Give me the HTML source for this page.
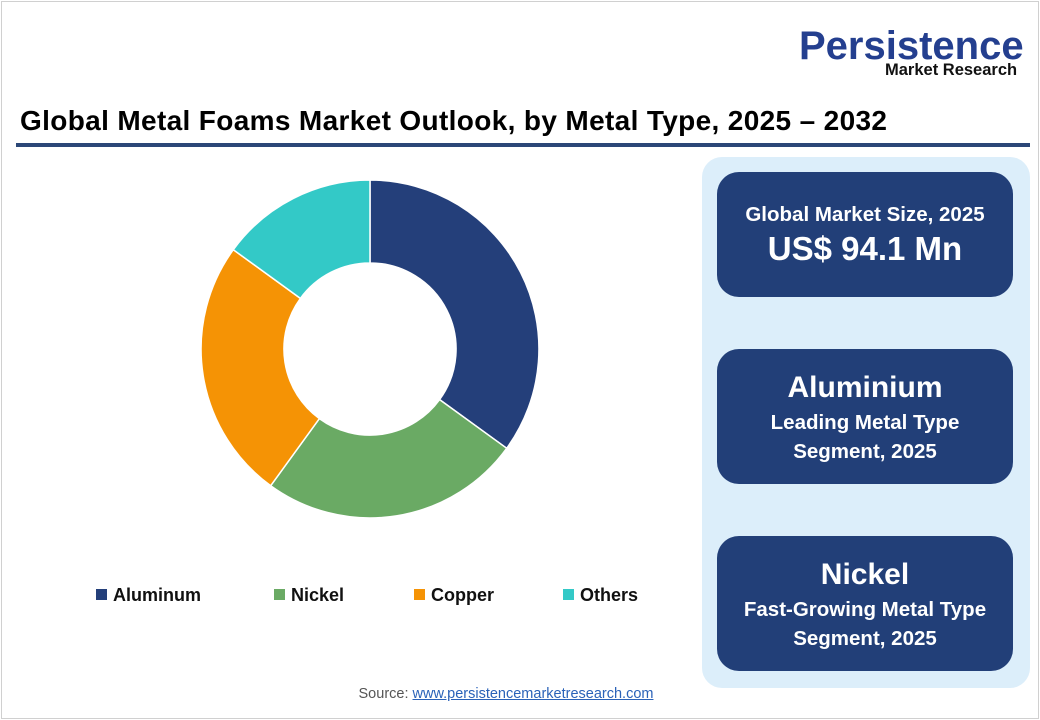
<!DOCTYPE html>
<html><head><meta charset="utf-8"><style>
body{margin:0;width:1040px;height:720px;background:#fff;font-family:"Liberation Sans",sans-serif;position:relative;overflow:hidden}
.frame{position:absolute;left:1px;top:1px;width:1036px;height:716px;border:1px solid #d0d0d0}
.title{position:absolute;left:20px;top:105px;font-size:28px;font-weight:bold;color:#000;letter-spacing:0.35px;white-space:nowrap}
.rule{position:absolute;left:16px;top:143px;width:1014px;height:4px;background:#2b4777}
.panel{position:absolute;left:702px;top:157px;width:328px;height:531px;background:#dceefa;border-radius:20px}
.box{position:absolute;left:717px;width:296px;background:#223f78;border-radius:22px;color:#fff;text-align:center;font-weight:bold;display:flex;flex-direction:column;justify-content:center}
.s{font-size:20.5px;line-height:29px}
.b{font-size:33px;line-height:40px}
.leg{position:absolute;top:585px;font-size:18px;font-weight:bold;color:#111}
.leg i{display:inline-block;width:11px;height:11px;margin-right:6px;vertical-align:1px}
.src{position:absolute;top:686px;left:0;width:1012px;text-align:center;font-size:14.5px;color:#555}
.src u{color:#2a62b8}
</style></head><body>
<div class="frame"></div>
<div style="position:absolute;left:799px;top:24px;font-size:40px;font-weight:bold;color:#243f8f">Persistence</div>
<div style="position:absolute;left:885px;top:61px;font-size:16.5px;font-weight:bold;color:#111">Market Research</div>
<div class="title">Global Metal Foams Market Outlook, by Metal Type, 2025 – 2032</div>
<div class="rule"></div>
<svg style="position:absolute;left:0;top:0" width="1040" height="720">
<g stroke="#fff" stroke-width="1.5">
<path d="M370 180 A169 169 0 0 1 506.7 448.3 L439.6 399.6 A86 86 0 0 0 370 263 Z" fill="#243f7a"/>
<path d="M506.7 448.3 A169 169 0 0 1 270.7 485.7 L319.4 418.6 A86 86 0 0 0 439.6 399.6 Z" fill="#6aaa64"/>
<path d="M270.7 485.7 A169 169 0 0 1 233.3 249.7 L300.4 298.4 A86 86 0 0 0 319.4 418.6 Z" fill="#f59305"/>
<path d="M233.3 249.7 A169 169 0 0 1 370 180 L370 263 A86 86 0 0 0 300.4 298.4 Z" fill="#33c9c7"/>
</g></svg>
<div class="leg" style="left:96px"><i style="background:#243f7a"></i>Aluminum</div>
<div class="leg" style="left:274px"><i style="background:#6aaa64"></i>Nickel</div>
<div class="leg" style="left:414px"><i style="background:#f59305"></i>Copper</div>
<div class="leg" style="left:563px"><i style="background:#33c9c7"></i>Others</div>
<div class="panel"></div>
<div class="box" style="top:172px;height:125px"><div class="s">Global Market Size, 2025</div><div class="b">US$ 94.1 Mn</div></div>
<div class="box" style="top:349px;height:135px"><div class="b" style="font-size:30px">Aluminium</div><div class="s">Leading Metal Type<br>Segment, 2025</div></div>
<div class="box" style="top:536px;height:135px"><div class="b" style="font-size:30px">Nickel</div><div class="s">Fast-Growing Metal Type<br>Segment, 2025</div></div>
<div class="src">Source: <u>www.persistencemarketresearch.com</u></div>
</body></html>
